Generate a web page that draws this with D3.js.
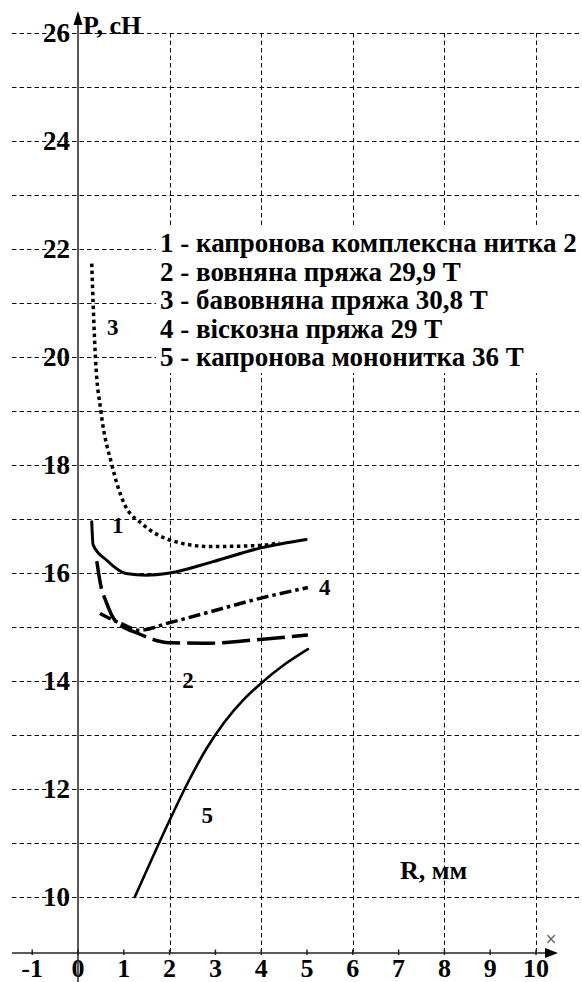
<!DOCTYPE html>
<html>
<head>
<meta charset="utf-8">
<script src="https://cdn.jsdelivr.net/npm/d3@7"></script>
<style>
  html, body { margin: 0; padding: 0; background: #fff; }
  svg { display: block; }
</style>
</head>
<body>
<svg id="chart" width="582" height="982"></svg>
<script>
// Tick values
const xTicks = [-1, 0, 1, 2, 3, 4, 5, 6, 7, 8, 9, 10];
const xGrid = [2, 4, 6, 8, 10];
const yGrid = [10, 11, 12, 13, 14, 15, 16, 17, 18, 19, 20, 21, 22, 23, 24, 25, 26];
const yTickLabels = [10, 12, 14, 16, 18, 20, 22, 24, 26];

// Curves: [R, mm ; P, cN]
const curve1 = [[0.30, 16.95], [0.33, 16.52], [0.62, 16.24], [1.05, 15.99], [1.49, 15.96], [2.0, 16.0], [2.95, 16.21], [3.97, 16.46], [4.98, 16.62]];
const curve2 = [[0.41, 16.22], [0.51, 15.72], [0.59, 15.52], [0.80, 15.13], [1.34, 14.87], [2.0, 14.71], [2.88, 14.70], [3.97, 14.77], [5.02, 14.85]];
const curve3 = [[0.30, 21.73], [0.33, 21.0], [0.38, 20.0], [0.50, 19.0], [0.74, 18.0], [1.0, 17.3], [1.43, 16.89], [2.01, 16.61], [2.88, 16.49], [3.97, 16.51], [4.4, 16.56]];
const curve4 = [[0.48, 15.25], [0.92, 15.07], [1.34, 14.94], [2.0, 15.08], [2.88, 15.28], [3.97, 15.53], [5.02, 15.73]];
const curve5 = [[1.24, 10.0], [1.6, 10.68], [2.0, 11.42], [2.4, 12.12], [2.8, 12.74], [3.2, 13.24], [3.6, 13.64], [4.0, 13.96], [4.5, 14.30], [5.02, 14.59]];

const curveLabels = [
  { t: "3", r: 0.76, p: 20.56 },
  { t: "1", r: 0.87, p: 16.89 },
  { t: "4", r: 5.39, p: 15.74 },
  { t: "2", r: 2.40, p: 14.02 },
  { t: "5", r: 2.82, p: 11.52 }
];

const legendItems = [
  "1 - капронова комплексна нитка 2",
  "2 - вовняна пряжа 29,9 Т",
  "3 - бавовняна пряжа 30,8 Т",
  "4 - віскозна пряжа 29 Т",
  "5 - капронова мононитка 36 Т"
];

const SERIF = '"Liberation Serif", "Times New Roman", serif';
const svg = d3.select("#chart");
const x = d3.scaleLinear().domain([0, 10]).range([78, 536]);
const y = d3.scaleLinear().domain([10, 26]).range([897, 33]);
const axisY = 953;

function bold(sel, size) {
  return sel.style("font-family", SERIF).style("font-weight", "bold")
    .style("font-size", size + "px").attr("fill", "#000");
}

// Dashed grid
const grid = svg.append("g").attr("stroke", "#111").attr("stroke-width", 1).attr("stroke-dasharray", "4.5,3");
grid.selectAll("line.h").data(yGrid).join("line")
  .attr("x1", 12).attr("x2", 580)
  .attr("y1", d => Math.round(y(d)) + 0.5).attr("y2", d => Math.round(y(d)) + 0.5);
grid.selectAll("line.v").data(xGrid).join("line")
  .attr("x1", d => Math.round(x(d)) + 0.5).attr("x2", d => Math.round(x(d)) + 0.5)
  .attr("y1", y(26)).attr("y2", axisY);

// Y tick labels
bold(svg.append("g").selectAll("text").data(yTickLabels).join("text"), 27)
  .attr("x", 70).attr("y", d => y(d) + 9)
  .attr("text-anchor", "end")
  .text(d => d);

// X axis with ticks
const xAxis = svg.append("g").attr("stroke", "#222").attr("stroke-width", 1.5);
xAxis.append("line").attr("x1", 12).attr("x2", 548).attr("y1", axisY).attr("y2", axisY);
xAxis.selectAll("line.t").data(xTicks).join("line")
  .attr("x1", d => x(d)).attr("x2", d => x(d))
  .attr("y1", axisY - 3.5).attr("y2", axisY + 2);
svg.append("path").attr("d", `M545,${axisY - 5}L558,${axisY}L545,${axisY + 5}Z`).attr("fill", "#000");
bold(svg.append("g").selectAll("text").data(xTicks).join("text"), 26)
  .attr("x", d => x(d)).attr("y", 977)
  .attr("text-anchor", "middle")
  .text(d => d);
svg.append("text").attr("x", 551).attr("y", 944).attr("text-anchor", "middle")
  .style("font-family", "DejaVu Sans").style("font-size", "15px")
  .attr("fill", "#666").text("×");

// Y axis
svg.append("line").attr("x1", 78).attr("x2", 78).attr("y1", 22).attr("y2", 982)
  .attr("stroke", "#222").attr("stroke-width", 1.5);
svg.append("path").attr("d", "M73.5,25L78,11L82.5,25Z").attr("fill", "#000");

// Axis titles
bold(svg.append("text"), 26).attr("x", 83).attr("y", 34).text("P, сН");
bold(svg.append("text"), 26).attr("x", 400).attr("y", 879).text("R, мм");

// Legend on a white panel
svg.append("rect").attr("x", 156).attr("y", 226).attr("width", 426).attr("height", 147).attr("fill", "#fff");
bold(svg.append("g").selectAll("text").data(legendItems).join("text"), 27)
  .attr("x", 160).attr("y", (d, i) => 252 + i * 28.5)
  .text(d => d);

// Curves
const line = d3.line().x(d => x(d[0])).y(d => y(d[1])).curve(d3.curveMonotoneX);
const series = [
  { data: curve3, w: 3.5, dash: "3.5,3.5", cap: "butt" },
  { data: curve1, w: 3, dash: null, cap: "round" },
  { data: curve2, w: 3.5, dash: "28,7", cap: "butt" },
  { data: curve4, w: 3.5, dash: "12,4,3.5,4", cap: "butt" },
  { data: curve5, w: 2.6, dash: null, cap: "round" }
];
svg.append("g").selectAll("path").data(series).join("path")
  .attr("d", d => line(d.data))
  .attr("fill", "none").attr("stroke", "#000")
  .attr("stroke-width", d => d.w)
  .attr("stroke-linecap", d => d.cap)
  .attr("stroke-dasharray", d => d.dash);

// Curve numbers
bold(svg.append("g").selectAll("text").data(curveLabels).join("text"), 23)
  .attr("x", d => x(d.r)).attr("y", d => y(d.p) + 8)
  .attr("text-anchor", "middle")
  .text(d => d.t);
</script>
</body>
</html>
